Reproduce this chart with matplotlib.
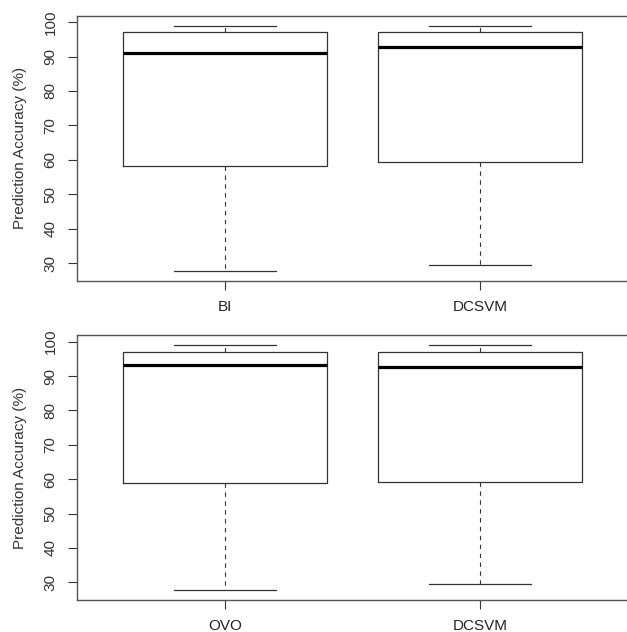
import matplotlib.pyplot as plt

plt.rcParams['font.family'] = ['Liberation Sans', 'DejaVu Sans']

# five-number summaries
top_labels = ['BI', 'DCSVM']
top_low = [27.7, 29.6]
top_q1 = [58.2, 59.3]
top_med = [91.0, 92.8]
top_q3 = [97.1, 97.1]
top_high = [99.0, 99.0]

bot_labels = ['OVO', 'DCSVM']
bot_low = [27.7, 29.5]
bot_q1 = [58.8, 59.3]
bot_med = [93.1, 92.7]
bot_q3 = [97.1, 97.1]
bot_high = [99.0, 99.0]

yticks = [30, 40, 50, 60, 70, 80, 90, 100]

fig = plt.figure(figsize=(6.27, 6.32), dpi=100)
ax1 = fig.add_axes([77 / 627, 1 - 281 / 632, 551 / 627, 265.3 / 632])
ax2 = fig.add_axes([77 / 627, 1 - 600 / 632, 551 / 627, 264.7 / 632])


def draw(ax, labels, low, q1, med, q3, high):
    stats = []
    for i in range(len(labels)):
        stats.append({'whislo': low[i], 'q1': q1[i], 'med': med[i],
                      'q3': q3[i], 'whishi': high[i], 'label': labels[i]})
    ax.bxp(stats, positions=[1, 2], widths=0.8, showfliers=False,
           boxprops=dict(color='#333333', linewidth=0.9),
           medianprops=dict(color='black', linewidth=2.3, solid_capstyle='butt'),
           whiskerprops=dict(color='#333333', linewidth=0.8, linestyle=(0, (4, 4))),
           capprops=dict(color='#333333', linewidth=0.9),
           capwidths=0.4)
    lo = min(low)
    hi = max(high)
    pad = (hi - lo) * 0.04
    ax.set_ylim(lo - pad, hi + pad)
    ax.set_xlim(0.5 - 0.08, 2.5 + 0.08)
    ax.set_yticks(yticks)
    ax.set_yticklabels([str(t) for t in yticks], rotation=90, va='center')
    ax.tick_params(axis='both', labelsize=11, colors='#333333', length=6.5,
                   width=0.8, pad=7.5)
    ax.tick_params(axis='x', labelcolor='#222222')
    for s in ax.spines.values():
        s.set_color('#555555')
        s.set_linewidth(1.0)
    ax.set_ylabel('Prediction Accuracy (%)', fontsize=11, color='#333333',
                  labelpad=12)


draw(ax1, top_labels, top_low, top_q1, top_med, top_q3, top_high)
draw(ax2, bot_labels, bot_low, bot_q1, bot_med, bot_q3, bot_high)

plt.savefig('out.png', dpi=100)
